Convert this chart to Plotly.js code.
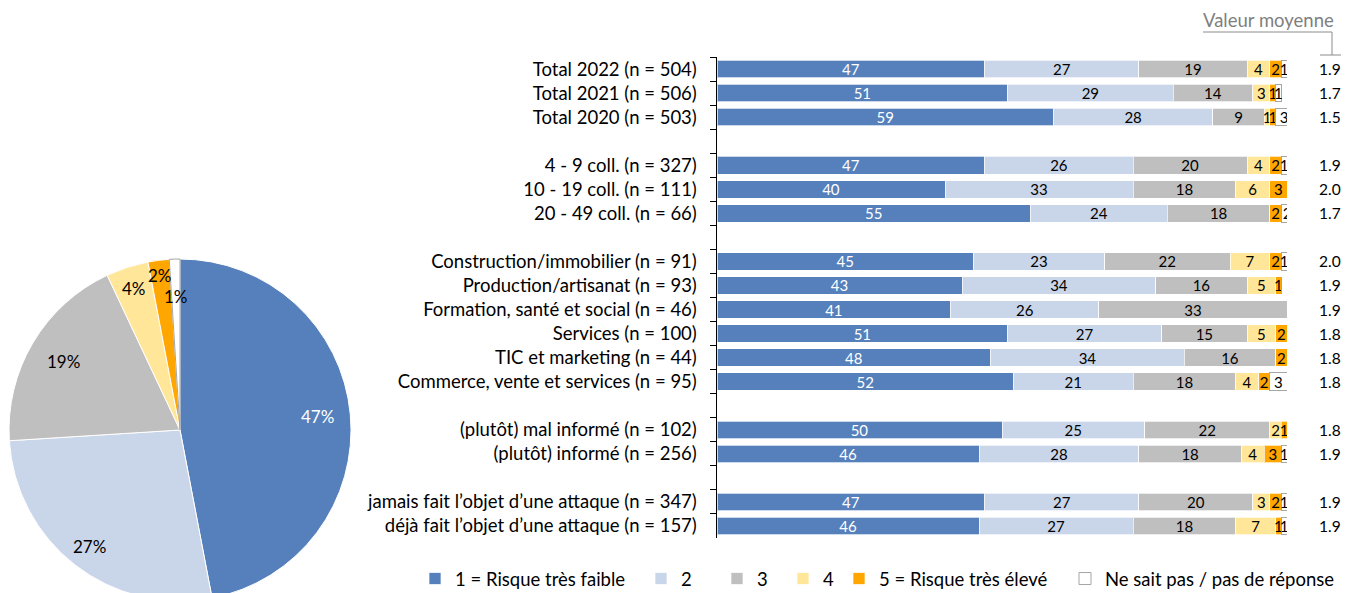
<!DOCTYPE html>
<html>
<head>
<meta charset="utf-8">
<script src="https://cdn.plot.ly/plotly-3.0.1.min.js"></script>
<style>
  html, body { margin: 0; padding: 0; background: #fff; overflow: hidden; }
  #wrap { width: 1352px; height: 593px; overflow: hidden; position: relative; }
  #chart { width: 1352px; height: 610px; }
</style>
</head>
<body>
<div id="wrap"><div id="chart"></div></div>
<script>
// ---- Data ----
const categories = [
  "Total 2022 (n = 504)",
  "Total 2021 (n = 506)",
  "Total 2020 (n = 503)",
  "4 - 9 coll. (n = 327)",
  "10 - 19 coll. (n = 111)",
  "20 - 49 coll. (n = 66)",
  "Construction/immobilier (n = 91)",
  "Production/artisanat (n = 93)",
  "Formation, santé et social (n = 46)",
  "Services (n = 100)",
  "TIC et marketing (n = 44)",
  "Commerce, vente et services (n = 95)",
  "(plutôt) mal informé (n = 102)",
  "(plutôt) informé (n = 256)",
  "jamais fait l’objet d’une attaque (n = 347)",
  "déjà fait l’objet d’une attaque (n = 157)"
];
const seriesNames = [
  "1 = Risque très faible", "2", "3", "4",
  "5 = Risque très élevé", "Ne sait pas / pas de réponse"
];
const risk1 = [47, 51, 59, 47, 40, 55, 45, 43, 41, 51, 48, 52, 50, 46, 47, 46];
const risk2 = [27, 29, 28, 26, 33, 24, 23, 34, 26, 27, 34, 21, 25, 28, 27, 27];
const risk3 = [19, 14,  9, 20, 18, 18, 22, 16, 33, 15, 16, 18, 22, 18, 20, 18];
const risk4 = [ 4,  3,  1,  4,  6,  0,  7,  5,  0,  5,  0,  4,  2,  4,  3,  7];
const risk5 = [ 2,  1,  1,  2,  3,  2,  2,  1,  0,  2,  2,  2,  1,  3,  2,  1];
const noAnswer = [1, 1, 3, 1, 0, 2, 1, 0, 0, 0, 0, 3, 1, 1, 1, 1];
const meanValues = [1.9, 1.7, 1.5, 1.9, 2.0, 1.7, 2.0, 1.9, 1.9, 1.8, 1.8, 1.8, 1.8, 1.9, 1.9, 1.9];
const pieValues = [47, 27, 19, 4, 2, 1];
const meanTitle = "Valeur moyenne";
// group boundaries (an empty row is inserted after these indices)
const groupEnds = [2, 5, 11, 13];

// ---- Styles / layout ----
const FONT = "Lato, 'Noto Sans', sans-serif";
const colors = ["#5580BB", "#C9D5E9", "#BFBFBF", "#FFE699", "#FFA600", "#FFFFFF"];
const lineColors = ["rgba(255,255,255,0.7)", "rgba(255,255,255,0.7)", "rgba(255,255,255,0.7)",
                    "rgba(255,255,255,0.7)", "rgba(255,255,255,0.7)", "#A6A6A6"];
const textColors = ["#FFFFFF", "#000000", "#000000", "#000000", "#000000", "#000000"];
const pieTextColors = ["#FFFFFF", "#000000", "#000000", "#000000", "#000000", "#000000"];
const pieLabelRadius = [0.81, 0.86, 0.79, 0.87, 0.91, 0.78];   // label distance (fraction of radius)
const legendLeft = [415, 641, 717, 783, 839, 1065];            // px position of each legend entry

const W = 1352, H = 610;
const px = v => v / W;
const py = v => 1 - v / H;

// pie geometry (px)
const pieBox = { x0: 9, x1: 351, y0: 259, y1: 601 };
const pieCx = (pieBox.x0 + pieBox.x1) / 2;
const pieCy = (pieBox.y0 + pieBox.y1) / 2;
const pieR = Math.min(pieBox.x1 - pieBox.x0, pieBox.y1 - pieBox.y0) / 2;

// Build category order with spacer rows
const rows = [];
let sp = 0;
categories.forEach((c, i) => {
  rows.push(c);
  if (groupEnds.includes(i)) { sp++; rows.push("\u00a0".repeat(sp)); }
});

const allSeries = [risk1, risk2, risk3, risk4, risk5, noAnswer];
const traces = allSeries.map((vals, k) => ({
  type: "bar",
  orientation: "h",
  name: seriesNames[k],
  legend: k === 0 ? "legend" : "legend" + (k + 1),
  y: categories,
  x: vals,
  text: vals.map(v => v > 0 ? String(v) : ""),
  textposition: "inside",
  insidetextanchor: "middle",
  textangle: 0,
  constraintext: "none",
  textfont: { family: FONT, size: 15, color: textColors[k] },
  marker: { color: colors[k], line: { color: lineColors[k], width: 1 } },
  hoverinfo: "x+y+name",
  xaxis: "x",
  yaxis: "y"
}));

traces.push({
  type: "pie",
  values: pieValues,
  labels: seriesNames,
  sort: false,
  direction: "clockwise",
  rotation: 0,
  textinfo: "none",
  marker: { colors: colors, line: { color: ["#FFFFFF", "#FFFFFF", "#FFFFFF", "#FFFFFF", "#FFFFFF", "#A6A6A6"], width: 1 } },
  showlegend: false,
  domain: { x: [px(pieBox.x0), px(pieBox.x1)], y: [py(pieBox.y1), py(pieBox.y0)] },
  hoverinfo: "label+value"
});

const annotations = categories.map((c, i) => ({
  xref: "paper", yref: "y",
  x: px(1330), y: c,
  text: meanValues[i].toFixed(1),
  showarrow: false,
  xanchor: "center", yanchor: "middle",
  font: { family: FONT, size: 15.5, color: "#000000" }
}));
annotations.push({
  xref: "paper", yref: "paper",
  x: px(1268), y: py(20),
  text: meanTitle, showarrow: false,
  xanchor: "center", yanchor: "middle",
  font: { family: FONT, size: 18.5, color: "#7F7F7F" }
});

// pie labels placed from the pie's values (cumulative angles, clockwise from 12 o'clock)
const pieTotal = pieValues.reduce((a, b) => a + b, 0);
let cum = 0;
pieValues.forEach((v, k) => {
  const mid = (cum + v / 2) / pieTotal * 2 * Math.PI;
  cum += v;
  const d = pieLabelRadius[k] * pieR;
  annotations.push({
    xref: "paper", yref: "paper",
    x: px(pieCx + d * Math.sin(mid)),
    y: py(pieCy - d * Math.cos(mid)),
    text: Math.round(v / pieTotal * 100) + "%",
    showarrow: false,
    xanchor: "center", yanchor: "middle",
    font: { family: FONT, size: 17, color: pieTextColors[k] }
  });
});

const bracket = { type: "line", xref: "paper", yref: "paper", line: { color: "#8C8C8C", width: 1 } };
const shapes = [
  Object.assign({}, bracket, { x0: px(1203), x1: px(1332), y0: py(32), y1: py(32) }),
  Object.assign({}, bracket, { x0: px(1332), x1: px(1332), y0: py(32), y1: py(55) }),
  Object.assign({}, bracket, { x0: px(1320), x1: px(1341), y0: py(55), y1: py(55) })
];

const layout = {
  width: W, height: H,
  margin: { l: 0, r: 0, t: 0, b: 0 },
  paper_bgcolor: "#FFFFFF",
  plot_bgcolor: "#FFFFFF",
  font: { family: FONT, size: 15, color: "#000000" },
  barmode: "stack",
  bargap: 0.27,
  xaxis: {
    domain: [px(717), px(1287)],
    range: [0, 100],
    visible: false,
    fixedrange: true
  },
  yaxis: {
    domain: [py(538), py(57)],
    type: "category",
    categoryorder: "array",
    categoryarray: rows,
    range: [rows.length - 0.5, -0.5],
    showline: true, linecolor: "#000000", linewidth: 1.5,
    ticks: "outside", tickson: "boundaries", ticklen: 6, tickcolor: "#000000", tickwidth: 1,
    ticklabelstandoff: 15,
    tickfont: { family: FONT, size: 18.5, color: "#000000" },
    showgrid: false, zeroline: false,
    fixedrange: true
  },
  showlegend: true,
  annotations: annotations,
  shapes: shapes
};
legendLeft.forEach((x, k) => {
  layout[k === 0 ? "legend" : "legend" + (k + 1)] = {
    orientation: "h",
    x: px(x), xanchor: "left",
    y: py(579), yanchor: "middle",
    font: { family: FONT, size: 18.5, color: "#000000" },
    itemwidth: 30,
    bgcolor: "rgba(0,0,0,0)"
  };
});

Plotly.newPlot("chart", traces, layout, { displayModeBar: false, staticPlot: true });
</script>
</body>
</html>
